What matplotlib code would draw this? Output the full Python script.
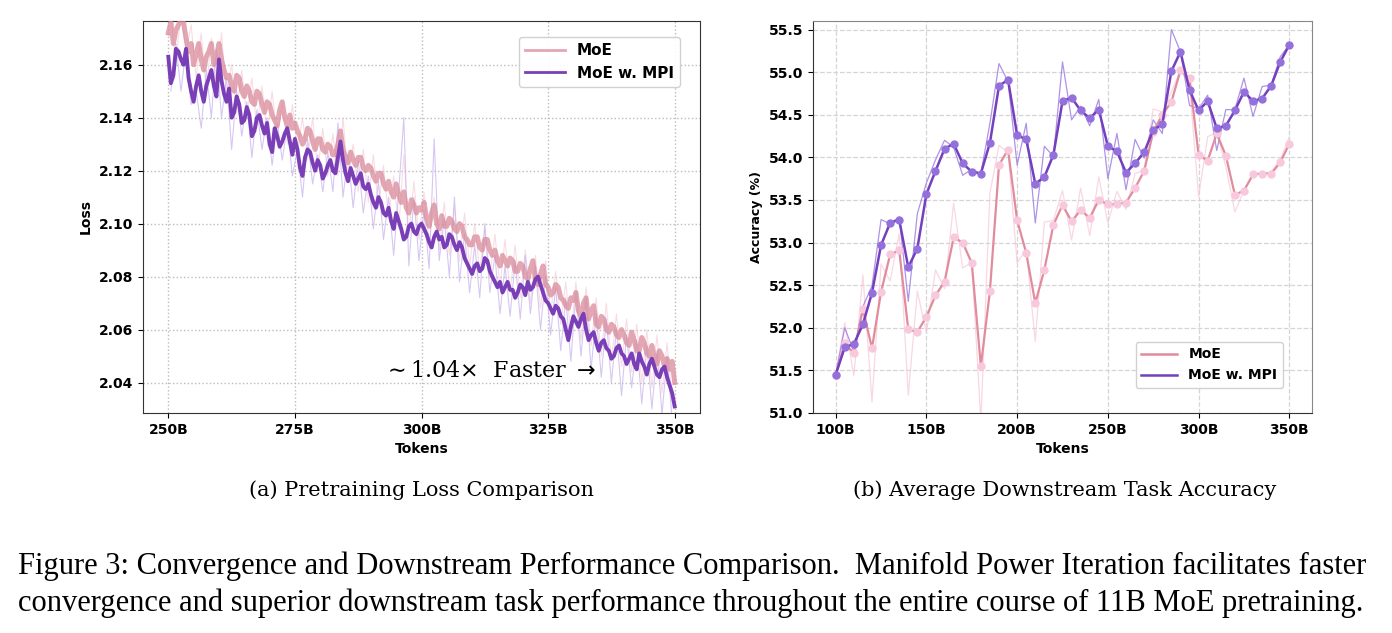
import numpy as np
import matplotlib
matplotlib.use("Agg")
import matplotlib.pyplot as plt
from matplotlib.ticker import FuncFormatter

# ---- (a) pretraining loss (0.5B steps, 250B..350B) ----
loss_tokens = [250 + 0.5 * i for i in range(201)]
loss_moe = [
    2.172, 2.176, 2.168, 2.173, 2.175, 2.177, 2.176, 2.170, 2.165, 2.168,
    2.160, 2.164, 2.168, 2.162, 2.158, 2.163, 2.165, 2.168, 2.160, 2.163,
    2.168, 2.162, 2.158, 2.155, 2.156, 2.152, 2.150, 2.156, 2.155, 2.150,
    2.148, 2.152, 2.150, 2.146, 2.145, 2.150, 2.149, 2.145, 2.142, 2.146,
    2.145, 2.141, 2.139, 2.137, 2.143, 2.146, 2.140, 2.137, 2.141, 2.136,
    2.138, 2.135, 2.133, 2.130, 2.132, 2.136, 2.135, 2.131, 2.128, 2.132,
    2.132, 2.128, 2.127, 2.130, 2.129, 2.126, 2.126, 2.130, 2.135, 2.128,
    2.125, 2.123, 2.127, 2.124, 2.122, 2.125, 2.125, 2.121, 2.120, 2.122,
    2.121, 2.118, 2.116, 2.119, 2.119, 2.115, 2.113, 2.116, 2.112, 2.110,
    2.115, 2.111, 2.108, 2.112, 2.106, 2.104, 2.109, 2.107, 2.104, 2.106,
    2.105, 2.108, 2.102, 2.099, 2.104, 2.107, 2.100, 2.098, 2.103, 2.099,
    2.099, 2.102, 2.101, 2.098, 2.097, 2.100, 2.099, 2.095, 2.094, 2.092,
    2.092, 2.095, 2.095, 2.091, 2.090, 2.094, 2.094, 2.090, 2.088, 2.090,
    2.086, 2.084, 2.088, 2.086, 2.084, 2.087, 2.086, 2.082, 2.082, 2.085,
    2.084, 2.080, 2.079, 2.083, 2.086, 2.079, 2.077, 2.081, 2.084, 2.077,
    2.076, 2.073, 2.074, 2.077, 2.076, 2.072, 2.071, 2.069, 2.068, 2.072,
    2.071, 2.074, 2.067, 2.065, 2.070, 2.072, 2.064, 2.067, 2.069, 2.062,
    2.061, 2.065, 2.064, 2.060, 2.059, 2.062, 2.061, 2.058, 2.057, 2.060,
    2.058, 2.055, 2.054, 2.059, 2.056, 2.052, 2.052, 2.057, 2.055, 2.051,
    2.050, 2.054, 2.049, 2.047, 2.052, 2.050, 2.046, 2.049, 2.045, 2.048,
    2.040,
]
loss_mpi = [
    2.163, 2.153, 2.156, 2.166, 2.165, 2.162, 2.160, 2.166, 2.155, 2.150,
    2.146, 2.152, 2.156, 2.150, 2.146, 2.152, 2.155, 2.158, 2.152, 2.148,
    2.162, 2.154, 2.149, 2.146, 2.151, 2.140, 2.142, 2.148, 2.145, 2.138,
    2.139, 2.144, 2.141, 2.133, 2.135, 2.140, 2.141, 2.137, 2.134, 2.138,
    2.130, 2.127, 2.136, 2.133, 2.129, 2.131, 2.134, 2.136, 2.131, 2.126,
    2.132, 2.128, 2.121, 2.118, 2.125, 2.128, 2.127, 2.123, 2.120, 2.124,
    2.122, 2.117, 2.119, 2.122, 2.124, 2.120, 2.119, 2.125, 2.131, 2.124,
    2.119, 2.116, 2.121, 2.118, 2.115, 2.117, 2.119, 2.114, 2.113, 2.115,
    2.111, 2.108, 2.106, 2.110, 2.108, 2.104, 2.103, 2.106, 2.101, 2.098,
    2.104, 2.101, 2.098, 2.094, 2.095, 2.099, 2.100, 2.097, 2.096, 2.099,
    2.100, 2.098, 2.096, 2.093, 2.091, 2.095, 2.097, 2.094, 2.095, 2.091,
    2.092, 2.096, 2.095, 2.092, 2.090, 2.093, 2.091, 2.087, 2.085, 2.083,
    2.081, 2.084, 2.085, 2.082, 2.083, 2.087, 2.086, 2.082, 2.080, 2.078,
    2.076, 2.078, 2.074, 2.076, 2.078, 2.075, 2.075, 2.072, 2.074, 2.077,
    2.076, 2.073, 2.078, 2.075, 2.076, 2.079, 2.080, 2.077, 2.074, 2.071,
    2.070, 2.068, 2.066, 2.069, 2.068, 2.065, 2.064, 2.060, 2.056, 2.061,
    2.065, 2.063, 2.061, 2.064, 2.066, 2.060, 2.056, 2.058, 2.059, 2.055,
    2.052, 2.055, 2.056, 2.053, 2.052, 2.049, 2.050, 2.053, 2.054, 2.051,
    2.050, 2.047, 2.049, 2.051, 2.047, 2.045, 2.051, 2.048, 2.046, 2.043,
    2.047, 2.049, 2.046, 2.043, 2.042, 2.045, 2.046, 2.042, 2.039, 2.036,
    2.031,
]
# raw (unsmoothed) traces, at the half steps 250.5B..349.5B
raw_tokens = [t + 0.5 for t in range(250, 350)]
raw_moe = [
    2.178, 2.160, 2.180, 2.165, 2.175, 2.155, 2.172, 2.150, 2.170, 2.152,
    2.172, 2.148, 2.160, 2.142, 2.158, 2.140, 2.155, 2.136, 2.152, 2.134,
    2.150, 2.132, 2.146, 2.130, 2.145, 2.128, 2.140, 2.124, 2.140, 2.120,
    2.136, 2.118, 2.134, 2.118, 2.140, 2.116, 2.130, 2.112, 2.128, 2.108,
    2.126, 2.106, 2.122, 2.102, 2.118, 2.098, 2.126, 2.096, 2.116, 2.094,
    2.112, 2.092, 2.110, 2.090, 2.108, 2.088, 2.106, 2.086, 2.104, 2.084,
    2.100, 2.082, 2.098, 2.080, 2.096, 2.076, 2.094, 2.074, 2.092, 2.072,
    2.090, 2.070, 2.088, 2.068, 2.086, 2.066, 2.082, 2.062, 2.078, 2.058,
    2.078, 2.056, 2.076, 2.054, 2.072, 2.050, 2.070, 2.048, 2.066, 2.046,
    2.064, 2.044, 2.062, 2.040, 2.060, 2.038, 2.058, 2.036, 2.055, 2.034,
]
raw_mpi = [
    2.150, 2.168, 2.150, 2.166, 2.145, 2.150, 2.136, 2.158, 2.140, 2.166,
    2.140, 2.155, 2.128, 2.150, 2.133, 2.146, 2.125, 2.143, 2.128, 2.140,
    2.122, 2.138, 2.124, 2.137, 2.118, 2.128, 2.110, 2.132, 2.115, 2.126,
    2.112, 2.127, 2.112, 2.138, 2.110, 2.126, 2.106, 2.124, 2.104, 2.118,
    2.098, 2.116, 2.094, 2.110, 2.088, 2.112, 2.140, 2.084, 2.110, 2.086,
    2.105, 2.083, 2.132, 2.086, 2.102, 2.080, 2.110, 2.078, 2.096, 2.074,
    2.092, 2.072, 2.100, 2.074, 2.088, 2.066, 2.084, 2.065, 2.086, 2.064,
    2.088, 2.066, 2.084, 2.060, 2.080, 2.058, 2.076, 2.052, 2.072, 2.048,
    2.074, 2.050, 2.072, 2.045, 2.066, 2.042, 2.064, 2.040, 2.060, 2.035,
    2.058, 2.038, 2.056, 2.032, 2.054, 2.030, 2.052, 2.028, 2.050, 2.026,
]

# ---- (b) downstream accuracy, every 5B from 100B to 350B ----
acc_tokens = list(range(100, 351, 5))
acc_moe_raw = [
    51.45, 52.06, 51.44, 52.62, 51.13, 52.75, 52.55, 53.10, 51.21, 52.43,
    51.94, 52.68, 52.46, 53.46, 52.70, 52.77, 50.90, 53.58, 54.14, 54.06,
    52.76, 52.92, 51.84, 53.24, 53.26, 53.61, 53.03, 53.64, 53.08, 53.77,
    53.23, 53.60, 53.39, 53.81, 53.85, 54.57, 54.53, 54.77, 55.02, 54.85,
    53.54, 54.24, 54.30, 53.89, 53.36, 53.61, 53.79, 53.81, 53.83, 53.97,
    54.24,
]
acc_moe = [
    51.45, 51.82, 51.70, 52.22, 51.76, 52.42, 52.86, 52.91, 51.98, 51.95,
    52.13, 52.38, 52.54, 53.06, 53.00, 52.76, 51.55, 52.43, 53.91, 54.09,
    53.26, 52.88, 52.29, 52.68, 53.21, 53.44, 53.25, 53.38, 53.29, 53.50,
    53.45, 53.45, 53.47, 53.64, 53.84, 54.30, 54.50, 54.65, 55.02, 54.93,
    54.03, 53.96, 54.28, 54.02, 53.56, 53.61, 53.80, 53.81, 53.81, 53.94,
    54.16,
]
acc_mpi_raw = [
    51.45, 52.00, 51.72, 52.25, 52.49, 53.27, 53.22, 53.30, 52.31, 53.34,
    53.70, 53.97, 54.20, 54.12, 53.79, 53.86, 53.81, 54.40, 55.10, 54.89,
    53.91, 54.40, 53.23, 54.13, 54.01, 55.12, 54.44, 54.60, 54.37, 54.68,
    53.75, 54.28, 53.62, 54.21, 53.99, 54.44, 54.28, 55.50, 55.24, 54.61,
    54.57, 54.73, 54.08, 54.56, 54.56, 54.93, 54.48, 54.83, 54.85, 55.18,
    55.32,
]
acc_mpi = [
    51.45, 51.77, 51.81, 52.04, 52.41, 52.97, 53.23, 53.27, 52.71, 52.93,
    53.57, 53.84, 54.10, 54.16, 53.93, 53.83, 53.81, 54.17, 54.84, 54.91,
    54.26, 54.21, 53.69, 53.77, 54.03, 54.66, 54.70, 54.55, 54.46, 54.56,
    54.13, 54.07, 53.82, 53.93, 54.06, 54.32, 54.39, 55.01, 55.24, 54.79,
    54.55, 54.66, 54.34, 54.37, 54.55, 54.77, 54.66, 54.69, 54.84, 55.12,
    55.32,
]

fmt_b = FuncFormatter(lambda v, p: f"{int(round(v))}B")

fig = plt.figure(figsize=(13.92, 6.33), dpi=100)

# ---------------- left panel ----------------
ax1 = fig.add_axes([143 / 1392, 1 - 413 / 633, 557 / 1392, 392 / 633])
ax1.plot(raw_tokens, raw_moe, color="#f4c6d2", lw=0.8, alpha=0.6, zorder=1)
ax1.plot(raw_tokens, raw_mpi, color="#c5b0ee", lw=0.8, alpha=0.7, zorder=2)
ax1.plot(loss_tokens, loss_moe, color="#d98a9a", lw=3.6, alpha=0.75, label="MoE", zorder=3)
ax1.plot(loss_tokens, loss_mpi, color="#7a3fb6", lw=2.8, label="MoE w. MPI", zorder=4)
ax1.set_xlim(245, 355)
ax1.set_ylim(2.0285, 2.1765)
ax1.set_xticks([250, 275, 300, 325, 350])
ax1.set_yticks([2.04, 2.06, 2.08, 2.10, 2.12, 2.14, 2.16])
ax1.xaxis.set_major_formatter(fmt_b)
ax1.yaxis.set_major_formatter(FuncFormatter(lambda v, p: f"{v:.2f}"))
ax1.grid(True, ls=":", color="#bbbbbb", lw=1.0)
ax1.set_axisbelow(True)
ax1.set_xlabel("Tokens", fontsize=10, fontweight="bold")
ax1.set_ylabel("Loss", fontsize=10, fontweight="bold")
for lab in ax1.get_xticklabels() + ax1.get_yticklabels():
    lab.set_fontweight("bold")
    lab.set_fontsize(10)
for s in ax1.spines.values():
    s.set_color("#333333")
leg1 = ax1.legend(loc="upper right", bbox_to_anchor=(537 / 557, 376 / 392),
                  borderaxespad=0, prop={"weight": "bold", "size": 11},
                  handlelength=2.6, framealpha=0.9)
for h in leg1.get_lines():
    h.set_linewidth(2.0)
ax1.text(292.3, 2.0442, r"$\sim$1.04$\times$  Faster $\rightarrow$",
         fontsize=16, family="DejaVu Serif", va="center", ha="left")

# ---------------- right panel ----------------
ax2 = fig.add_axes([813 / 1392, 1 - 413 / 633, 499 / 1392, 392 / 633])
ax2.plot(acc_tokens, acc_moe_raw, color="#f7c6d8", lw=0.9, alpha=0.7, zorder=1)
ax2.plot(acc_tokens, acc_mpi_raw, color="#9a78e0", lw=0.9, alpha=0.8, zorder=2)
ax2.plot(acc_tokens, acc_moe, color="#e08c9c", lw=1.6, marker="o", ms=5,
         mfc="#f8c8dc", mec="#f8c8dc", label="MoE", zorder=3)
ax2.plot(acc_tokens, acc_mpi, color="#7440bd", lw=1.8, marker="o", ms=5,
         mfc="#9370db", mec="#9370db", label="MoE w. MPI", zorder=4)
ax2.set_xlim(87.5, 362.5)
ax2.set_ylim(51.0, 55.6)
ax2.set_xticks([100, 150, 200, 250, 300, 350])
ax2.set_yticks(np.arange(51.0, 55.51, 0.5))
ax2.xaxis.set_major_formatter(fmt_b)
ax2.yaxis.set_major_formatter(FuncFormatter(lambda v, p: f"{v:.1f}"))
ax2.grid(True, ls="--", color="#d5d5d5", lw=0.9)
ax2.set_axisbelow(True)
ax2.set_xlabel("Tokens", fontsize=10, fontweight="bold")
ax2.set_ylabel("Accuracy (%)", fontsize=9, fontweight="bold")
for lab in ax2.get_xticklabels() + ax2.get_yticklabels():
    lab.set_fontweight("bold")
    lab.set_fontsize(10)
ax2.spines["left"].set_color("#333333")
ax2.spines["bottom"].set_color("#333333")
ax2.spines["top"].set_color("#888888")
ax2.spines["right"].set_color("#888888")
leg2 = ax2.legend(loc="lower right", bbox_to_anchor=(470 / 499, 25 / 392),
                  borderaxespad=0, prop={"weight": "bold", "size": 10},
                  handlelength=2.6, framealpha=0.9)
for h in leg2.get_lines():
    h.set_marker("")
    h.set_linewidth(1.8)

# ---------------- captions ----------------
fig.text(421 / 1392, 1 - 490 / 633, "(a) Pretraining Loss Comparison",
         fontsize=15, family="DejaVu Serif", ha="center", va="center")
fig.text(1065 / 1392, 1 - 490 / 633, "(b) Average Downstream Task Accuracy",
         fontsize=15, family="DejaVu Serif", ha="center", va="center")
fig.text(18 / 1392, 1 - 566 / 633,
         "Figure 3: Convergence and Downstream Performance Comparison.  Manifold Power Iteration facilitates faster",
         fontsize=22, family="Liberation Serif", ha="left", va="center")
fig.text(18 / 1392, 1 - 603 / 633,
         "convergence and superior downstream task performance throughout the entire course of 11B MoE pretraining.",
         fontsize=22, family="Liberation Serif", ha="left", va="center")

fig.savefig("out.png", dpi=100)
